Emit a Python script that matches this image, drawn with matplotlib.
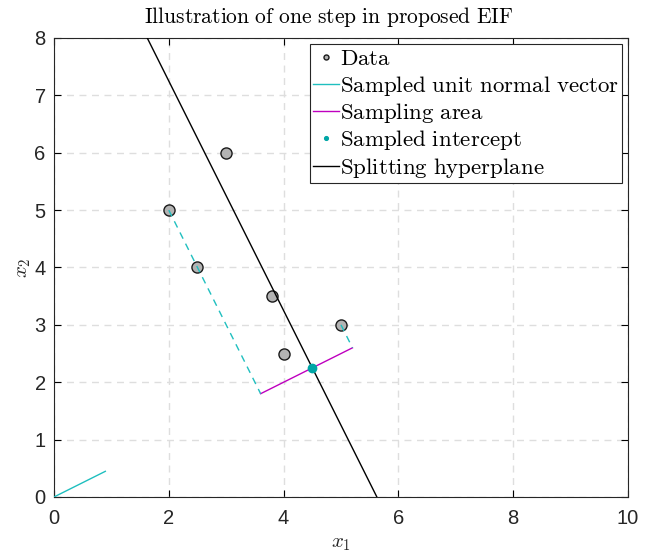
import matplotlib.pyplot as plt
import numpy as np

plt.rcParams['mathtext.fontset'] = 'cm'
plt.rcParams['font.family'] = ['Liberation Sans', 'DejaVu Sans']

# data points
x_data = [2, 2.5, 3, 3.8, 4, 5]
y_data = [5, 4, 6, 3.5, 2.5, 3]
# unit normal vector direction and sampled intercept
normal = np.array([2.0, 1.0]) / np.sqrt(5)
intercept = [4.5, 2.25]

pts = np.column_stack([x_data, y_data])
proj = pts @ normal
i_min, i_max = np.argmin(proj), np.argmax(proj)
p_min = proj[i_min] * normal
p_max = proj[i_max] * normal

cyan = '#1fbfbf'
magenta = '#bf00bf'

fig = plt.figure(figsize=(6.52, 5.53), dpi=100)
ax = fig.add_axes([0.0828, 0.1013, 0.8804, 0.8300])

ax.plot(x_data, y_data, 'o', ms=8, mfc='#b3b3b3', mec='#1a1a1a', mew=1.0,
        label=r'$\mathrm{Data}$', zorder=2)
ax.plot([0, normal[0]], [0, normal[1]], color=cyan, lw=1,
        label=r'$\mathrm{Sampled\ unit\ normal\ vector}$', zorder=3)
ax.plot([p_min[0], p_max[0]], [p_min[1], p_max[1]], color=magenta, lw=1,
        label=r'$\mathrm{Sampling\ area}$', zorder=3)
ax.plot([pts[i_min, 0], p_min[0]], [pts[i_min, 1], p_min[1]], '--',
        color=cyan, lw=1, dashes=(5, 4), zorder=3)
ax.plot([pts[i_max, 0], p_max[0]], [pts[i_max, 1], p_max[1]], '--',
        color=cyan, lw=1, dashes=(5, 4), zorder=3)
ax.plot(intercept[0], intercept[1], 'o', ms=6, color='#00a6a6',
        label=r'$\mathrm{Sampled\ intercept}$', zorder=4)

# hyperplane: perpendicular to normal through intercept
d = np.array([normal[1], -normal[0]])
t = np.array([-20, 20])
ax.plot(intercept[0] + t * d[0], intercept[1] + t * d[1], color='k', lw=1,
        label=r'$\mathrm{Splitting\ hyperplane}$', zorder=3)

ax.set_xlim(0, 10)
ax.set_ylim(0, 8)
ax.set_xticks(range(0, 11, 2))
ax.set_yticks(range(0, 9))
ax.grid(True, ls=(0, (5, 4)), color='#dedede', lw=1)
ax.set_axisbelow(True)
ax.tick_params(direction='in', top=True, right=True, labelsize=14.5,
               labelcolor='#262626', length=5, width=0.8)
ax.tick_params(axis='x', pad=9)
ax.tick_params(axis='y', pad=6)
for s in ax.spines.values():
    s.set_color('#262626')
    s.set_linewidth(0.8)

ax.set_xlabel(r'$x_1$', fontsize=15, color='#262626', labelpad=4)
ax.set_ylabel(r'$x_2$', fontsize=15, color='#262626', labelpad=1)
ax.set_title(r'$\mathrm{Illustration\ of\ one\ step\ in\ proposed\ EIF}$',
             fontsize=15.5, pad=11, x=0.478)

handles, labels = ax.get_legend_handles_labels()
leg = ax.legend(handles, labels, loc='upper right', fontsize=16.5,
                fancybox=False, framealpha=1, edgecolor='#262626',
                handlelength=1.1, handletextpad=0.05, borderpad=0.15,
                labelspacing=0.15, borderaxespad=0.25, markerscale=0.45)
leg.get_frame().set_linewidth(0.8)

fig.savefig('out.png', dpi=100)
